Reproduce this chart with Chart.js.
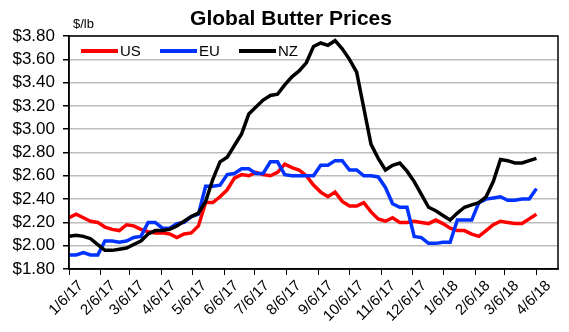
<!DOCTYPE html>
<html>
<head>
<meta charset="utf-8">
<script src="https://cdn.jsdelivr.net/npm/chart.js@4.4.1/dist/chart.umd.min.js"></script>
<style>
  html, body { margin: 0; padding: 0; background: #fff; }
  #wrap { width: 569px; height: 332px; }
</style>
</head>
<body>
<div id="wrap"><canvas id="butterChart" width="569" height="332"></canvas></div>
<script>
// weekly prices in $/lb, first week is 1/6/17
const seriesNames = ['US', 'EU', 'NZ'];
const seriesColors = ['#ff0000', '#0033ff', '#000000'];

const usPrices = [
  2.24, 2.27, 2.24, 2.21, 2.20, 2.16, 2.14, 2.13, 2.18, 2.17,
  2.14, 2.12, 2.11, 2.11, 2.10, 2.07, 2.10, 2.11, 2.17, 2.37,
  2.37, 2.42, 2.48, 2.58, 2.61, 2.60, 2.63, 2.61, 2.60, 2.63,
  2.70, 2.67, 2.65, 2.60, 2.52, 2.46, 2.42, 2.46, 2.38, 2.34,
  2.34, 2.37, 2.29, 2.23, 2.21, 2.24, 2.20, 2.20, 2.21, 2.20,
  2.19, 2.22, 2.19, 2.15, 2.13, 2.13, 2.10, 2.08, 2.13, 2.18,
  2.21, 2.20, 2.19, 2.19, 2.23, 2.27
];
const euPrices = [
  1.92, 1.92, 1.94, 1.92, 1.92, 2.04, 2.04, 2.03, 2.04, 2.07,
  2.08, 2.20, 2.20, 2.15, 2.15, 2.19, 2.20, 2.25, 2.27, 2.51,
  2.51, 2.52, 2.61, 2.62, 2.66, 2.66, 2.62, 2.62, 2.72, 2.72,
  2.61, 2.60, 2.60, 2.60, 2.60, 2.69, 2.69, 2.73, 2.73, 2.65,
  2.65, 2.60, 2.60, 2.59, 2.50, 2.36, 2.33, 2.33, 2.08, 2.07,
  2.02, 2.02, 2.03, 2.03, 2.22, 2.22, 2.22, 2.37, 2.40, 2.41,
  2.42, 2.39, 2.39, 2.40, 2.40, 2.49
];
const nzPrices = [
  2.08, 2.09, 2.08, 2.06, 2.01, 1.96, 1.96, 1.97, 1.98, 2.01,
  2.04, 2.10, 2.13, 2.13, 2.14, 2.17, 2.21, 2.25, 2.28, 2.38,
  2.57, 2.72, 2.76, 2.86, 2.96, 3.13, 3.19, 3.25, 3.29, 3.30,
  3.38, 3.45, 3.50, 3.57, 3.71, 3.74, 3.72, 3.76, 3.69, 3.60,
  3.49, 3.18, 2.87, 2.75, 2.65, 2.69, 2.71, 2.64, 2.55, 2.44,
  2.33, 2.30, 2.26, 2.22, 2.28, 2.33, 2.35, 2.37, 2.42, 2.55,
  2.74, 2.73, 2.71, 2.71, 2.73, 2.75
];

const tickLabels = [
  '1/6/17', '2/6/17', '3/6/17', '4/6/17', '5/6/17', '6/6/17', '7/6/17', '8/6/17',
  '9/6/17', '10/6/17', '11/6/17', '12/6/17', '1/6/18', '2/6/18', '3/6/18', '4/6/18'
];

// days since the first week, so the x axis is a real date line
function dayOf(label) {
  const [m, d, y] = label.split('/').map(Number);
  return Math.round((Date.UTC(2000 + y, m - 1, d) - Date.UTC(2017, 0, 6)) / 86400000);
}
const tickDays = tickLabels.map(dayOf);
const weekly = arr => arr.map((v, i) => ({ x: i * 7, y: v }));

const FONT = 'Liberation Sans, Arial, sans-serif';

const frameAndText = {
  id: 'frameAndText',
  afterDraw(chart) {
    const { ctx, chartArea: a } = chart;
    ctx.save();
    // plot frame
    ctx.strokeStyle = '#000';
    ctx.lineWidth = 1.5;
    ctx.strokeRect(a.left, a.top, a.right - a.left, a.bottom - a.top);

    // title and unit
    ctx.fillStyle = '#000';
    ctx.textBaseline = 'middle';
    ctx.textAlign = 'center';
    ctx.font = 'bold 21px ' + FONT;
    ctx.fillText('Global Butter Prices', 291, 19);
    ctx.textAlign = 'left';
    ctx.font = '13px ' + FONT;
    ctx.fillText('$/lb', 73, 24);

    // legend inside the plot
    ctx.font = '15px ' + FONT;
    let x = a.left + 12;
    const y = a.top + 15;
    chart.data.datasets.forEach(ds => {
      ctx.strokeStyle = ds.borderColor;
      ctx.lineWidth = 4;
      ctx.beginPath();
      ctx.moveTo(x, y);
      ctx.lineTo(x + 37, y);
      ctx.stroke();
      ctx.fillStyle = '#000';
      ctx.fillText(ds.label, x + 39, y + 1);
      x += 79;
    });
    ctx.restore();
  }
};

const datasets = [usPrices, euPrices, nzPrices].map((arr, i) => ({
  label: seriesNames[i],
  data: weekly(arr),
  borderColor: seriesColors[i],
  backgroundColor: seriesColors[i],
  borderWidth: 3.5,
  pointRadius: 0,
  tension: 0,
  order: 2 - i
}));

new Chart(document.getElementById('butterChart').getContext('2d'), {
  type: 'line',
  data: { datasets: datasets },
  options: {
    responsive: false,
    animation: false,
    layout: { padding: { top: 36, right: 11, left: 0, bottom: 0 } },
    plugins: {
      legend: { display: false },
      title: { display: false },
      tooltip: { enabled: false }
    },
    scales: {
      x: {
        type: 'linear',
        min: 0,
        max: 476,
        afterBuildTicks: axis => { axis.ticks = tickDays.map(v => ({ value: v })); },
        afterFit: axis => { axis.height = 63; },
        ticks: {
          autoSkip: false,
          minRotation: 45,
          maxRotation: 45,
          color: '#000',
          font: { family: FONT, size: 15 },
          padding: 2,
          labelOffset: 12,
          callback: value => tickLabels[tickDays.indexOf(value)]
        },
        grid: { drawOnChartArea: false, tickLength: 6, color: '#000' },
        border: { color: '#000', width: 1.5 }
      },
      y: {
        min: 1.8,
        max: 3.8,
        afterFit: axis => { axis.width = 69; },
        ticks: {
          stepSize: 0.2,
          autoSkip: false,
          color: '#000',
          padding: 8,
          font: { family: FONT, size: 17 },
          callback: v => '$' + Number(v).toFixed(2)
        },
        grid: { color: '#bdbdbd', lineWidth: 1.5, tickLength: 6, tickColor: '#000' },
        border: { color: '#000', width: 1.5 }
      }
    }
  },
  plugins: [frameAndText]
});
</script>
</body>
</html>
